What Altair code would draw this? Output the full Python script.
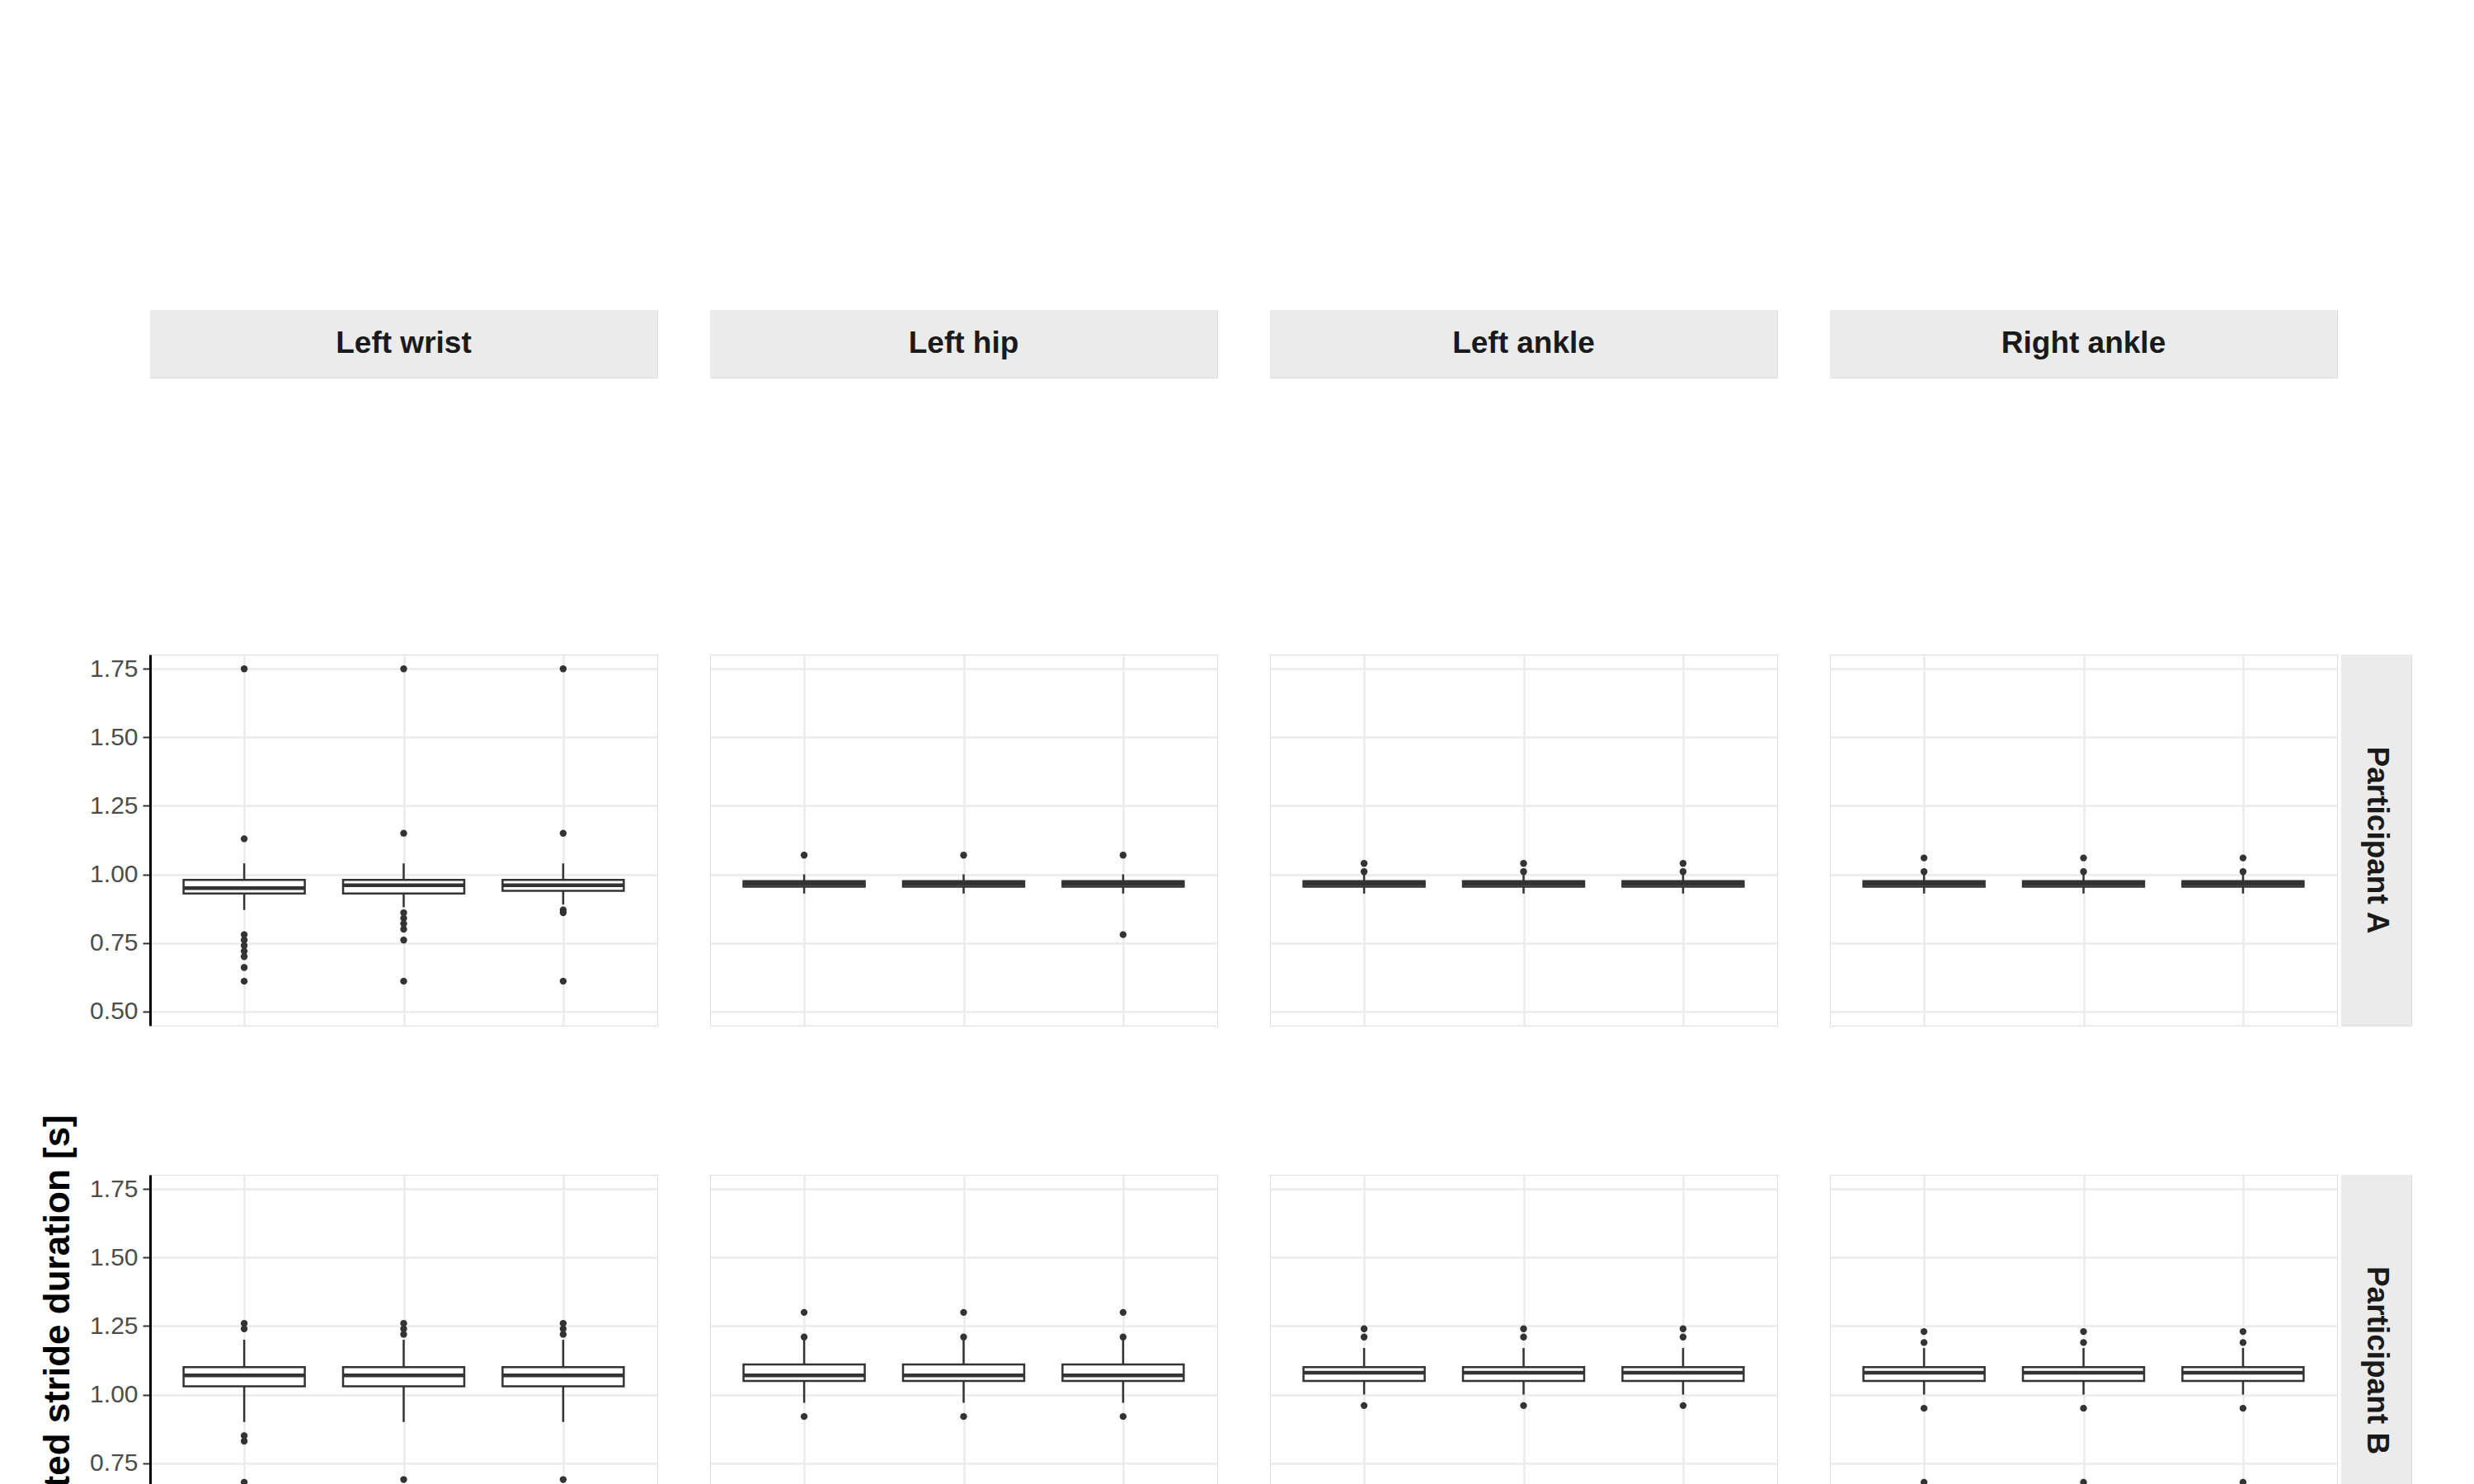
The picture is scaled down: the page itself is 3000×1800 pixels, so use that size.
import altair as alt
import pandas as pd

participants = ["Participant A", "Participant B", "Participant C"]
sensors = ["Left wrist", "Left hip", "Left ankle", "Right ankle"]
widths = [0.2, 0.4, 0.6]
yticks = [0.5, 0.75, 1.0, 1.25, 1.5, 1.75]

# box stats per (participant, sensor): one list per width -> [lo, q1, med, q3, hi]
stats = {
    ("A", "Left wrist"): [[0.87, 0.93, 0.95, 0.98, 1.04], [0.88, 0.93, 0.96, 0.98, 1.04], [0.89, 0.94, 0.96, 0.98, 1.04]],
    ("A", "Left hip"): [[0.93, 0.955, 0.965, 0.975, 1.00]] * 3,
    ("A", "Left ankle"): [[0.93, 0.955, 0.965, 0.975, 1.00]] * 3,
    ("A", "Right ankle"): [[0.93, 0.955, 0.965, 0.975, 1.00]] * 3,
    ("B", "Left wrist"): [[0.90, 1.03, 1.07, 1.10, 1.20]] * 3,
    ("B", "Left hip"): [[0.97, 1.05, 1.07, 1.11, 1.20]] * 3,
    ("B", "Left ankle"): [[1.00, 1.05, 1.08, 1.10, 1.17]] * 3,
    ("B", "Right ankle"): [[1.00, 1.05, 1.08, 1.10, 1.17]] * 3,
    ("C", "Left wrist"): [[0.70, 0.86, 0.97, 0.99, 1.10], [0.76, 0.90, 0.98, 1.00, 1.10], [0.86, 0.94, 0.98, 1.00, 1.10]],
    ("C", "Left hip"): [[0.95, 0.97, 0.98, 0.99, 1.01]] * 3,
    ("C", "Left ankle"): [[0.95, 0.97, 0.98, 0.99, 1.01]] * 3,
    ("C", "Right ankle"): [[0.95, 0.97, 0.98, 0.99, 1.01]] * 3,
}

outliers = {
    ("A", "Left wrist"): [[1.75, 1.13, 0.78, 0.76, 0.74, 0.72, 0.70, 0.66, 0.61],
                          [1.75, 1.15, 0.86, 0.84, 0.82, 0.80, 0.76, 0.61],
                          [1.75, 1.15, 0.87, 0.86, 0.61]],
    ("A", "Left hip"): [[1.07], [1.07], [1.07, 0.78]],
    ("A", "Left ankle"): [[1.04, 1.01]] * 3,
    ("A", "Right ankle"): [[1.06, 1.01]] * 3,
    ("B", "Left wrist"): [[1.26, 1.24, 0.85, 0.83, 0.68, 0.64, 0.61, 0.59, 0.57, 0.55, 0.53, 0.51, 0.50],
                          [1.26, 1.24, 1.22, 0.69, 0.66, 0.63, 0.60, 0.57, 0.55, 0.53, 0.51, 0.50],
                          [1.26, 1.24, 1.22, 0.69, 0.66, 0.63, 0.60, 0.57, 0.55, 0.53, 0.51, 0.50]],
    ("B", "Left hip"): [[1.30, 1.21, 0.92]] * 3,
    ("B", "Left ankle"): [[1.24, 1.21, 0.96]] * 3,
    ("B", "Right ankle"): [[1.23, 1.19, 0.95, 0.68, 0.55]] * 3,
    ("C", "Left wrist"): [[1.63, 0.66, 0.64, 0.62, 0.60, 0.55, 0.53, 0.51, 0.50],
                          [1.63, 0.69, 0.66, 0.62, 0.57, 0.53, 0.51],
                          [1.63, 1.27, 1.12, 1.11, 1.10, 0.84, 0.82, 0.79, 0.76, 0.67, 0.64, 0.62, 0.58, 0.54, 0.51, 0.50]],
    ("C", "Left hip"): [[1.04, 1.03, 0.83], [1.04, 1.03, 0.81], [1.04, 1.03, 0.63]],
    ("C", "Left ankle"): [[1.06, 0.93, 0.84], [1.06, 0.93, 0.82], [1.06, 0.93, 0.64]],
    ("C", "Right ankle"): [[1.07, 0.93, 0.81], [1.07, 0.93, 0.80], [1.07, 0.93, 0.61]],
}

W, H = 615, 450
HALF = 0.076
FONT = "Liberation Sans"
DARK = "#333333"
YTITLE = "Estimated stride duration [s]"
XTITLE = "Width of neighborhood used in maxima fine-tuning procedure [s]"
ys = alt.Scale(domain=[0.448, 1.802], nice=False)


def y_axis(show, title_visible=True, grid=True):
    # same sizes on every first-column chart so the rows line up
    if not show:
        return alt.Axis(values=yticks, labels=False, ticks=False, domain=False, grid=grid,
                        gridColor="#ebebeb", gridWidth=2.5, title=None)
    return alt.Axis(values=yticks, format=".2f", grid=grid, gridColor="#ebebeb", gridWidth=2.5,
                    title=YTITLE, titleFontSize=44, titleFont=FONT, titleFontWeight="bold",
                    titleColor="black" if title_visible else "transparent", titlePadding=16,
                    labelFontSize=30, labelColor="#4d4d4d", labelFont=FONT, labelPadding=6,
                    domainColor="black", domainWidth=3, tickColor=DARK, tickWidth=2, tickSize=9)


def ghost_axis(chart_w, chart_h):
    # invisible copy of the left axis, to give the strip / title rows the same left offset
    d = pd.DataFrame({"v": [1.0]})
    ax = alt.Axis(values=yticks, format=".2f", grid=False, title=YTITLE, titleFontSize=44,
                  titleFont=FONT, titleFontWeight="bold", titleColor="transparent", titlePadding=16,
                  labelFontSize=30, labelColor="transparent", labelFont=FONT, labelPadding=6,
                  domainColor="transparent", domainWidth=3, tickColor="transparent",
                  tickWidth=2, tickSize=9)
    return alt.Chart(d).mark_point(opacity=0).encode(
        y=alt.Y("v:Q", scale=alt.Scale(domain=[0.448, 1.802], nice=False), axis=ax),
        x=alt.value(chart_w / 2)).properties(width=chart_w, height=chart_h)


def panel(r, c):
    p = participants[r][-1]
    s = sensors[c]
    box = pd.DataFrame([
        dict(w=w, x0=w - HALF, x1=w + HALF, lo=v[0], q1=v[1], med=v[2], q3=v[3], hi=v[4])
        for w, v in zip(widths, stats[(p, s)])
    ])
    pts = pd.DataFrame([dict(w=w, y=y) for w, yl in zip(widths, outliers[(p, s)]) for y in yl])

    bottom = r == 2
    xaxis = alt.Axis(values=widths, format=".1f", labels=bottom, ticks=bottom, domain=bottom,
                     grid=True, gridColor="#ebebeb", gridWidth=2.5, title=None,
                     labelFontSize=30, labelColor="#4d4d4d", labelFont=FONT, labelPadding=6,
                     domainColor="black", domainWidth=3, tickColor=DARK, tickWidth=2, tickSize=9)
    yaxis = y_axis(c == 0, title_visible=(r == 1))
    xs = alt.Scale(domain=[0.082, 0.718], nice=False)

    b = alt.Chart(box)
    whisk = b.mark_rule(color=DARK, strokeWidth=2.5).encode(
        x=alt.X("w:Q", scale=xs, axis=xaxis), y=alt.Y("lo:Q", scale=ys, axis=yaxis), y2="hi:Q")
    rect = b.mark_rect(fill="white", stroke=DARK, strokeWidth=2.5).encode(
        x="x0:Q", x2="x1:Q", y="q1:Q", y2="q3:Q")
    med = b.mark_rule(color=DARK, strokeWidth=4.5).encode(x="x0:Q", x2="x1:Q", y="med:Q")
    dots = alt.Chart(pts).mark_circle(color=DARK, opacity=1, size=70).encode(x="w:Q", y="y:Q")
    return alt.layer(whisk, rect, med, dots).properties(width=W, height=H)


def strip(label, w, h, angle=0, ghost=False):
    d = alt.Chart(pd.DataFrame({"label": [label]}))
    bg = d.mark_rect(color="#ebebeb").encode(
        x=alt.value(0), x2=alt.value(w), y=alt.value(0), y2=alt.value(h))
    txt = d.mark_text(font=FONT, fontSize=37, fontWeight="bold", color="#1a1a1a", angle=angle).encode(
        text="label:N", x=alt.value(w / 2), y=alt.value(h / 2))
    layers = [bg, txt]
    if ghost:
        layers.insert(0, ghost_axis(w, h))
    return alt.layer(*layers).properties(width=w, height=h)


top = alt.hconcat(*[strip(s, W, 82, ghost=(i == 0)) for i, s in enumerate(sensors)], spacing=62)
rows = []
for r in range(3):
    pan = alt.hconcat(*[panel(r, c) for c in range(4)], spacing=62)
    rows.append(alt.hconcat(pan, strip(participants[r], 85, H, angle=90), spacing=3))
grid = alt.vconcat(*rows, spacing=33)

total_w = 4 * W + 3 * 62
xtitle = alt.layer(
    ghost_axis(total_w, 40),
    alt.Chart(pd.DataFrame({"t": [XTITLE]})).mark_text(
        font=FONT, fontSize=44, fontWeight="bold", color="black").encode(
        text="t:N", x=alt.value(total_w / 2), y=alt.value(20)),
).properties(width=total_w, height=40)

chart = alt.vconcat(alt.vconcat(top, grid, spacing=4), xtitle, spacing=22).properties(
    padding={"left": 40, "top": 110, "right": 10, "bottom": 10}
).configure_view(strokeWidth=0).configure(background="white")

chart.save("out.html", embed_options={"renderer": "svg", "actions": False})
